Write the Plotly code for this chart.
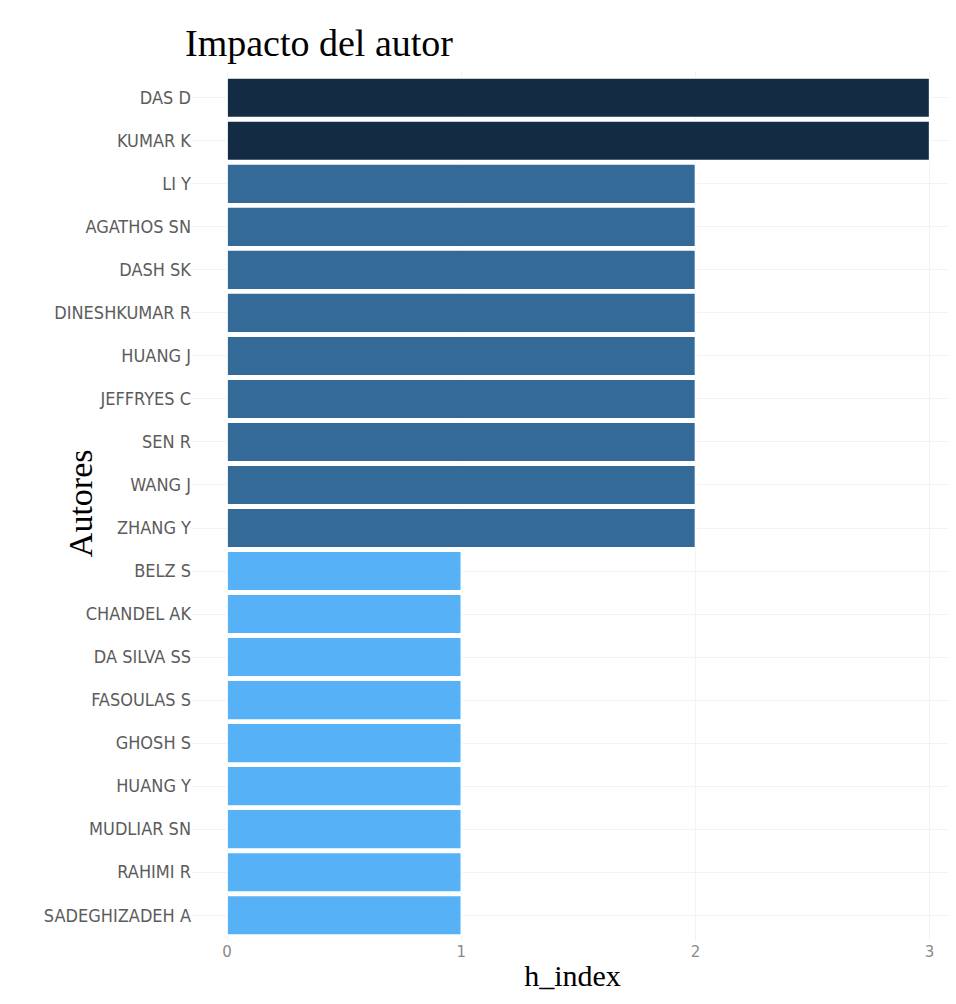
import plotly.graph_objects as go

authors = ["DAS D", "KUMAR K", "LI Y", "AGATHOS SN", "DASH SK", "DINESHKUMAR R",
           "HUANG J", "JEFFRYES C", "SEN R", "WANG J", "ZHANG Y", "BELZ S",
           "CHANDEL AK", "DA SILVA SS", "FASOULAS S", "GHOSH S", "HUANG Y",
           "MUDLIAR SN", "RAHIMI R", "SADEGHIZADEH A"]
h_index = [3, 3, 2, 2, 2, 2, 2, 2, 2, 2, 2, 1, 1, 1, 1, 1, 1, 1, 1, 1]
x_ticks = [0, 1, 2, 3]

fig = go.Figure(go.Bar(
    x=h_index, y=authors, orientation="h",
    marker=dict(color=h_index, cmin=1, cmax=3,
                colorscale=[[0, "#56B1F7"], [0.5, "#336A98"], [1, "#132B43"]],
                line=dict(color="white", width=1.5)),
    showlegend=False,
))

fig.update_layout(
    width=956, height=1004,
    paper_bgcolor="white", plot_bgcolor="white",
    margin=dict(l=184, r=11, t=64, b=71),
    bargap=0.08,
    title=dict(text="Impacto del autor", x=177/956, xanchor="left", y=1-35/1004, yanchor="middle",
               font=dict(family="Liberation Serif", size=38, color="black")),
    xaxis=dict(range=[-0.15, 3.1], tickvals=x_ticks, showgrid=True, gridcolor="#f3f3f3",
               zeroline=False, showline=False, ticks="",
               tickfont=dict(family="DejaVu Sans", size=15, color="#8a8a8a"),
               title=dict(text="h_index", font=dict(family="Liberation Serif", size=30, color="black"), standoff=4)),
    yaxis=dict(categoryorder="array", categoryarray=authors, autorange=False, range=[19.6, -0.6],
               showgrid=True, gridcolor="#f3f3f3", ticks="", showline=False, zeroline=False,
               tickfont=dict(family="DejaVu Sans Condensed, DejaVu Sans", size=18, color="#5c5c5c")),
    annotations=[dict(text="Autores", textangle=-90, xref="paper", yref="paper",
                      x=-0.147, y=0.504, xanchor="center", yanchor="middle", showarrow=False,
                      font=dict(family="Liberation Serif", size=34, color="black"))],
)

fig.write_html("out.html")
